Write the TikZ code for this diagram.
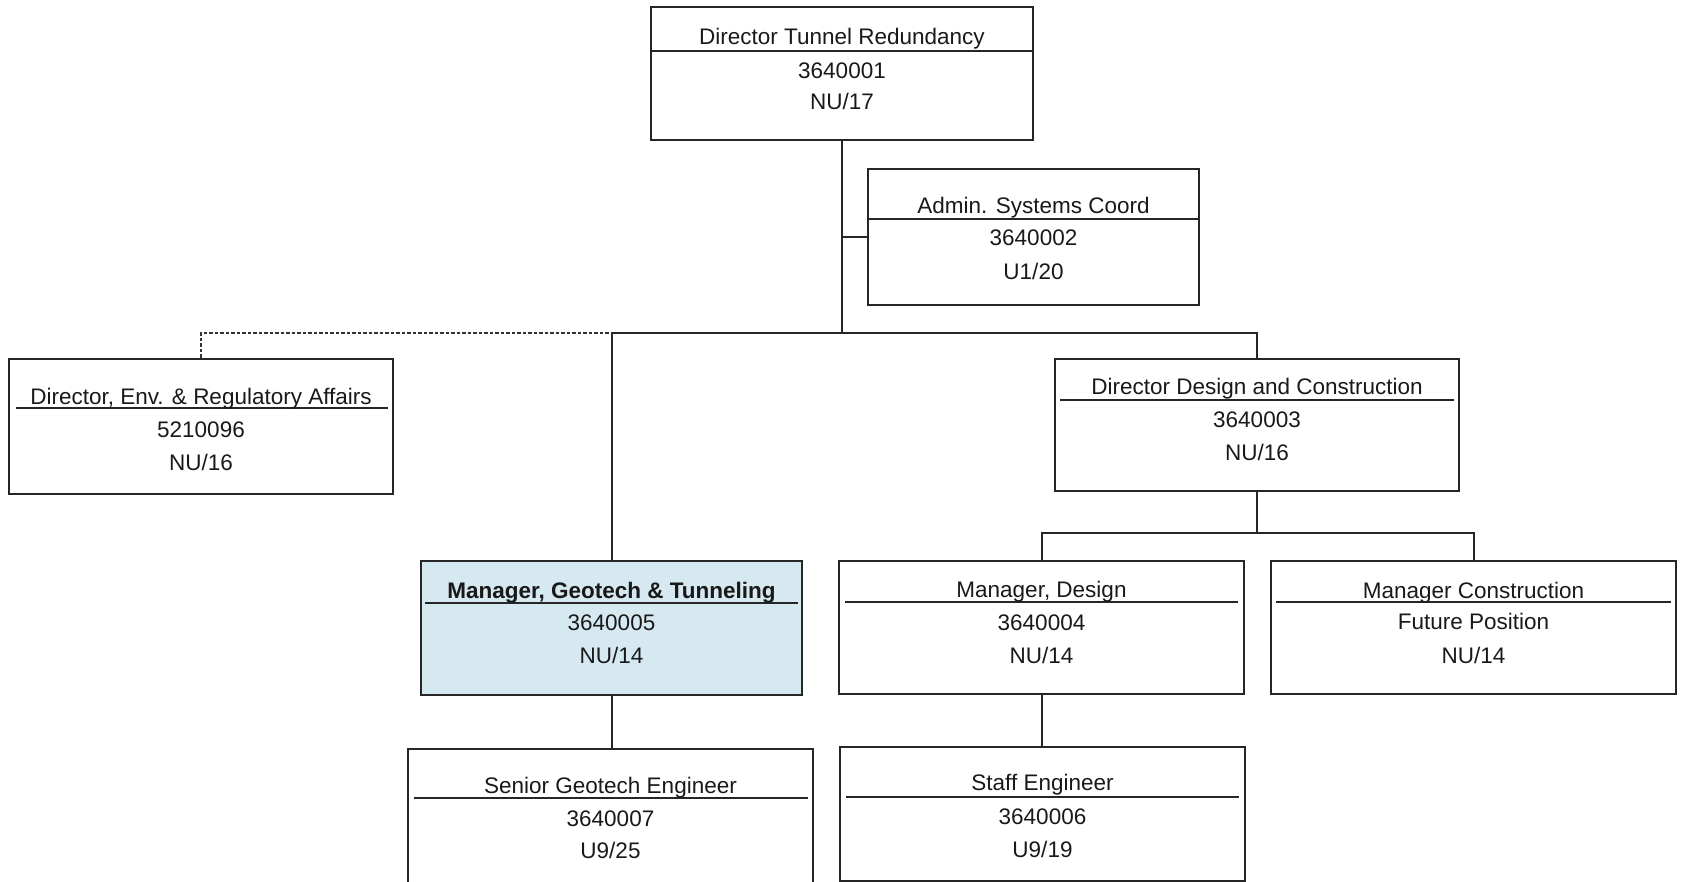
\documentclass[tikz,border=0pt]{standalone}
\usepackage{fontspec}
\setmainfont{Liberation Sans}

\definecolor{geoblue}{RGB}{214,232,240}
\tikzset{
  posbox/.style={draw=black!85, line width=2.4pt, inner sep=0pt},
  txt/.style={inner sep=0pt, text height=16pt, text depth=0pt, text=black!90, font=\fontsize{22.5}{27}\selectfont},
  rule/.style={line width=2pt, draw=black!85},
  link/.style={line width=2pt, draw=black!85},
  dotlink/.style={line width=1.6pt, draw=black!80, dash pattern=on 3.5pt off 2pt},
}

\begin{document}
\begin{tikzpicture}[x=1pt,y=-1pt]
  \useasboundingbox (0,0) rectangle (1682,882);
  % boxes
  \node[posbox, minimum width=382, minimum height=133] (dtr) at (842,73.5) {};
  \node[posbox, minimum width=331, minimum height=136] (adm) at (1033.5,237) {};
  \node[posbox, minimum width=384, minimum height=135] (env) at (201,426.5) {};
  \node[posbox, minimum width=404, minimum height=132] (ddc) at (1257,425) {};
  \node[posbox, fill=geoblue, minimum width=381, minimum height=134] (mgt) at (611.5,628) {};
  \node[posbox, minimum width=405, minimum height=133] (mds) at (1041.5,627.5) {};
  \node[posbox, minimum width=405, minimum height=133] (mcn) at (1473.5,627.5) {};
  \node[posbox, minimum width=405, minimum height=134] (sge) at (610.5,816) {};
  \node[posbox, minimum width=405, minimum height=134] (stf) at (1042.5,814) {};

  % dividers
  \draw[rule] ([yshift=-45pt]dtr.north west) -- ([yshift=-45pt]dtr.north east);
  \draw[rule] ([yshift=-51pt]adm.north west) -- ([yshift=-51pt]adm.north east);
  \draw[rule] ([xshift=8pt,yshift=-50pt]env.north west) -- ([xshift=-6pt,yshift=-50pt]env.north east);
  \draw[rule] ([xshift=6pt,yshift=-42pt]ddc.north west) -- ([xshift=-6pt,yshift=-42pt]ddc.north east);
  \draw[rule] ([xshift=5pt,yshift=-43pt]mgt.north west) -- ([xshift=-5pt,yshift=-43pt]mgt.north east);
  \draw[rule] ([xshift=7pt,yshift=-42pt]mds.north west) -- ([xshift=-7pt,yshift=-42pt]mds.north east);
  \draw[rule] ([xshift=6pt,yshift=-42pt]mcn.north west) -- ([xshift=-6pt,yshift=-42pt]mcn.north east);
  \draw[rule] ([xshift=7pt,yshift=-50pt]sge.north west) -- ([xshift=-6pt,yshift=-50pt]sge.north east);
  \draw[rule] ([xshift=7pt,yshift=-51pt]stf.north west) -- ([xshift=-7pt,yshift=-51pt]stf.north east);

  % texts
  \node[txt] (dtr-t) at ([yshift=-31pt]dtr.north) {Director Tunnel Redundancy};
  \node[txt] (dtr-n) at ([yshift=-65pt]dtr.north) {3640001};
  \node[txt] (dtr-g) at ([yshift=-96pt]dtr.north) {NU/17};
  \node[txt] (adm-t) at ([yshift=-38pt]adm.north) {Admin. Systems Coord};
  \node[txt] (adm-n) at ([yshift=-70pt]adm.north) {3640002};
  \node[txt] (adm-g) at ([yshift=-104pt]adm.north) {U1/20};
  \node[txt] (env-t) at ([yshift=-39pt]env.north) {Director, Env. \& Regulatory Affairs};
  \node[txt] (env-n) at ([yshift=-72pt]env.north) {5210096};
  \node[txt] (env-g) at ([yshift=-105pt]env.north) {NU/16};
  \node[txt] (ddc-t) at ([yshift=-29pt]ddc.north) {Director Design and Construction};
  \node[txt] (ddc-n) at ([yshift=-62pt]ddc.north) {3640003};
  \node[txt] (ddc-g) at ([yshift=-95pt]ddc.north) {NU/16};
  \node[txt, font=\fontsize{22.5}{27}\selectfont\bfseries] (mgt-t) at ([yshift=-31pt]mgt.north) {Manager, Geotech \& Tunneling};
  \node[txt] (mgt-n) at ([yshift=-63pt]mgt.north) {3640005};
  \node[txt] (mgt-g) at ([yshift=-96pt]mgt.north) {NU/14};
  \node[txt] (mds-t) at ([yshift=-30pt]mds.north) {Manager, Design};
  \node[txt] (mds-n) at ([yshift=-63pt]mds.north) {3640004};
  \node[txt] (mds-g) at ([yshift=-96pt]mds.north) {NU/14};
  \node[txt] (mcn-t) at ([yshift=-31pt]mcn.north) {Manager Construction};
  \node[txt] (mcn-n) at ([yshift=-62pt]mcn.north) {Future Position};
  \node[txt] (mcn-g) at ([yshift=-96pt]mcn.north) {NU/14};
  \node[txt] (sge-t) at ([yshift=-38pt]sge.north) {Senior Geotech Engineer};
  \node[txt] (sge-n) at ([yshift=-71pt]sge.north) {3640007};
  \node[txt] (sge-g) at ([yshift=-103pt]sge.north) {U9/25};
  \node[txt] (stf-t) at ([yshift=-37pt]stf.north) {Staff Engineer};
  \node[txt] (stf-n) at ([yshift=-71pt]stf.north) {3640006};
  \node[txt] (stf-g) at ([yshift=-104pt]stf.north) {U9/19};

  % connectors
  \coordinate (bus) at (842,333);
  \coordinate (bus2) at (1257,533);
  \draw[link] (dtr.south) -- (bus);
  \draw[link] (adm.west) -- (adm.west -| dtr.south);
  \draw[dotlink] (env.north) |- (mgt.north |- bus);
  \draw[link] (mgt.north) |- (ddc.north |- bus) -- (ddc.north);
  \draw[link] (ddc.south) -- (bus2);
  \draw[link] (mds.north) |- (mcn.north |- bus2) -- (mcn.north);
  \draw[link] (mgt.south) -- (mgt.south |- sge.north);
  \draw[link] (mds.south) -- (mds.south |- stf.north);
\end{tikzpicture}
\end{document}
